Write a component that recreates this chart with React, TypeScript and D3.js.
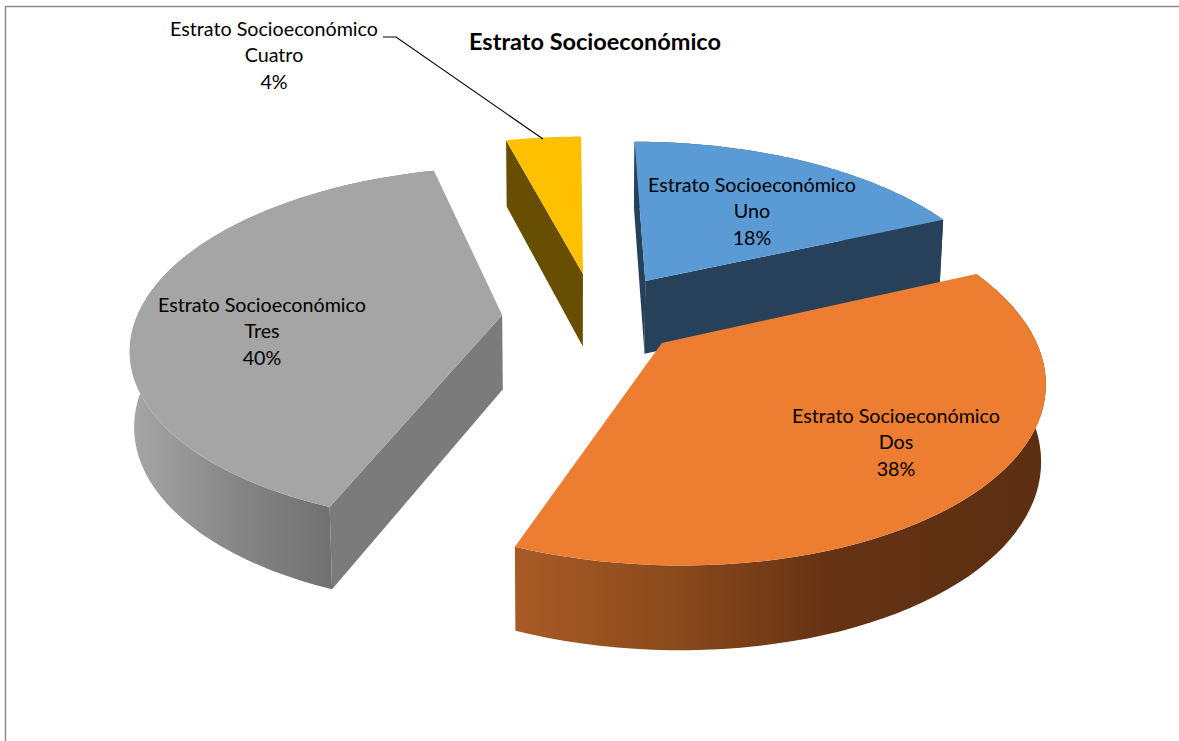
import React from "react";
import * as d3 from "d3";

const categories = ["Uno", "Dos", "Tres", "Cuatro"];
const values = [18.4, 37.6, 40, 4];
const seriesName = "Estrato Socioeconómico";
const title = "Estrato Socioeconómico";

const topColors = ["#5b9bd5", "#ed7d31", "#a5a5a5", "#ffc000"];
const wallColors = ["#27415a", "#7a7a7a", "#7b7b7b", "#674e00"];
const offsets: [number, number][] = [[0.2135, 0.1735], [0.245, -0.186], [-0.186, -0.029], [0.037, 0.217]];
const labelPos = [[752, 185], [896, 416], [262, 305], [274, 29]];
const showWalls = [[true, true], [false, false], [true, false], [true, false]];
const W = 1179, H = 741;
const cx = 570, cy = 310, A = 363, B = 172, K = 0.17;

const project = (X: number, Y: number): [number, number] => {
  const w = 1 + K * Y;
  return [cx + (A * X) / w, cy - (B * Y) / w];
};
const drop = (X: number, Y: number): [number, number] => {
  const w = 1 + K * Y;
  const [sx, sy] = project(X, Y);
  return [sx + (cx - sx) * 0.01, sy + 74 / Math.pow(w, 0.6)];
};

const pie = d3.pie<number>().sort(null).value((d) => d);
const arcs = pie(values);
const line = d3.line();

const fontFamily = "Lato, Carlito, 'Open Sans', sans-serif";

export default function App() {
  const order = [3, 0, 2, 1];
  const slices = arcs.map((a, i) => {
    const [ax, ay] = offsets[i];
    const angs = d3.range(0, 61).map((t) => a.startAngle + ((a.endAngle - a.startAngle) * t) / 60);
    const rim = angs.map((g) => [ax + Math.sin(g), ay + Math.cos(g)] as [number, number]);
    const first = rim[0], last = rim[rim.length - 1];
    const wall = (p: [number, number]) =>
      line([project(ax, ay), project(p[0], p[1]), drop(p[0], p[1]), drop(ax, ay)])! + "Z";
    return {
      i,
      top: line([project(ax, ay), ...rim.map((p) => project(p[0], p[1]))])! + "Z",
      rimBand: line([...rim.map((p) => project(p[0], p[1])), ...rim.slice().reverse().map((p) => drop(p[0], p[1]))])! + "Z",
      wallA: wall(first),
      wallB: wall(last),
    };
  });
  const rimFill = ["#27415a", "url(#orangeSide)", "url(#graySide)", "#674e00"];
  return (
    <svg width={W} height={H} style={{ position: "absolute", left: 0, top: 0, background: "#fff" }} fontFamily={fontFamily}>
      <defs>
        <linearGradient id="orangeSide" gradientUnits="userSpaceOnUse" x1={513} x2={1045} y1={0} y2={0}>
          <stop offset="0" stopColor="#a95b26" />
          <stop offset="0.3" stopColor="#8a4a1c" />
          <stop offset="0.6" stopColor="#653214" />
          <stop offset="1" stopColor="#5c2e12" />
        </linearGradient>
        <linearGradient id="graySide" gradientUnits="userSpaceOnUse" x1={130} x2={336} y1={0} y2={0}>
          <stop offset="0" stopColor="#a6a6a6" />
          <stop offset="0.55" stopColor="#848484" />
          <stop offset="1" stopColor="#707070" />
        </linearGradient>
      </defs>
      <path d="M5.5 741V6.5H1179" fill="none" stroke="#8c8c8c" strokeWidth={1.5} />
      {order.map((idx) => {
        const s = slices[idx];
        return (
          <g key={categories[idx]}>
            {idx !== 3 && <path d={s.rimBand} fill={rimFill[idx]} />}
            {showWalls[idx][0] && <path d={s.wallA} fill={wallColors[idx]} />}
            {showWalls[idx][1] && <path d={s.wallB} fill={wallColors[idx]} />}
            <path d={s.top} fill={topColors[idx]} />
          </g>
        );
      })}
      <path d="M383 37H396L543 139" fill="none" stroke="#000" strokeWidth={1.1} />
      <text x={595} y={50} textAnchor="middle" fontSize={23.5} fontWeight={700} fill="#000">{title}</text>
      {categories.map((c, i) => (
        <text key={c} textAnchor="middle" fontSize={19.7} fill="#000">
          {[seriesName, c, `${Math.round(values[i])}%`].map((t, j) => (
            <tspan key={j} x={labelPos[i][0]} y={labelPos[i][1] + 7 + j * 26.3}>{t}</tspan>
          ))}
        </text>
      ))}
    </svg>
  );
}
